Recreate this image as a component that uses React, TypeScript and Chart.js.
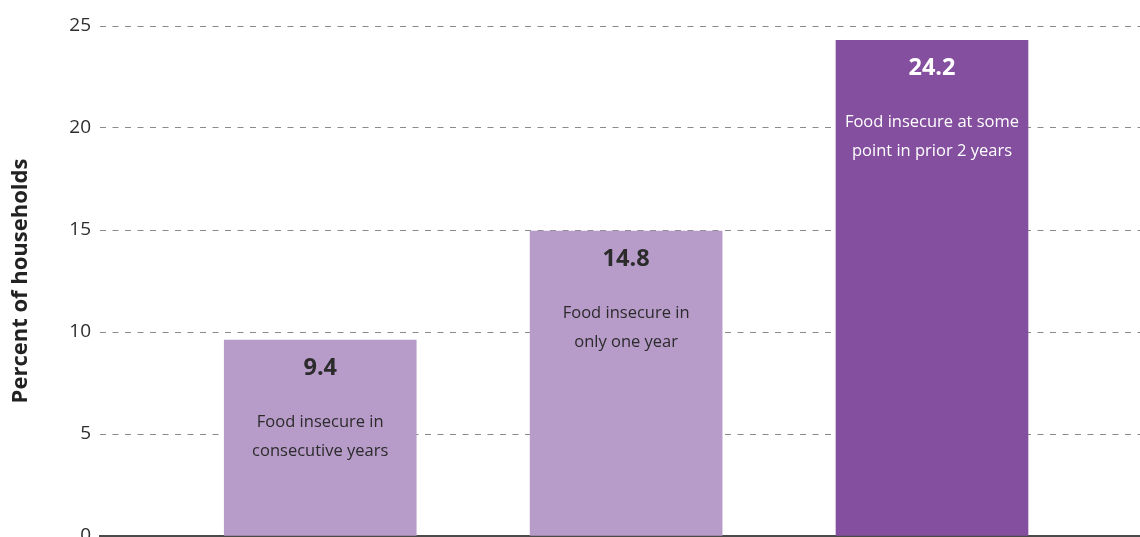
import React, { useEffect, useRef } from "react";
import { Chart, registerables } from "chart.js";

Chart.register(...registerables);

const categories = [
  ["Food insecure in", "consecutive years"],
  ["Food insecure in", "only one year"],
  ["Food insecure at some", "point in prior 2 years"],
];
const barValues = [9.6, 14.95, 24.3];
const valueLabels = ["9.4", "14.8", "24.2"];
const yTicks = [0, 5, 10, 15, 20, 25];
const barColors = ["#b79bc9", "#b79bc9", "#854f9f"];
const textColors = ["#2b2b2b", "#2b2b2b", "#ffffff"];

const FONT = "'Open Sans', 'DejaVu Sans', sans-serif";

const barLabelPlugin = {
  id: "barLabels",
  afterDatasetsDraw(chart: any) {
    const meta = chart.getDatasetMeta(0);
    const ctx = chart.ctx;
    ctx.save();
    ctx.textAlign = "center";
    ctx.textBaseline = "middle";
    meta.data.forEach((bar: any, i: number) => {
      const x = bar.x;
      const top = bar.y;
      ctx.fillStyle = textColors[i];
      ctx.font = `bold 23.5px ${FONT}`;
      ctx.fillText(valueLabels[i], x, top + 28);
      ctx.font = `16.5px ${FONT}`;
      categories[i].forEach((line: string, j: number) => {
        ctx.fillText(line, x, top + 82 + j * 29);
      });
    });
    ctx.restore();
  },
};

export default function App() {
  const ref = useRef<HTMLCanvasElement | null>(null);
  useEffect(() => {
    if (!ref.current) return;
    const chart = new Chart(ref.current, {
      type: "bar",
      data: {
        datasets: [
          {
            data: barValues.map((v, i) => ({ x: i, y: v })),
            backgroundColor: barColors,
            barThickness: 192,
            borderWidth: 0,
          },
        ],
      },
      options: {
        animation: false,
        responsive: true,
        maintainAspectRatio: false,
        layout: { padding: { top: 26, right: 0, bottom: 24, left: 0 } },
        plugins: { legend: { display: false }, tooltip: { enabled: false } },
        scales: {
          x: {
            type: "linear",
            offset: false,
            min: -0.72,
            max: 2.68,
            ticks: { display: false },
            grid: { display: false, drawTicks: false },
            border: { display: true, color: "#4a4a4a", width: 2 },
          },
          y: {
            min: 0,
            max: 25,
            afterBuildTicks: (scale: any) => {
              scale.ticks = yTicks.map((v) => ({ value: v }));
            },
            afterFit: (scale: any) => {
              scale.width = 100;
            },
            ticks: {
              color: "#2e2e2e",
              font: { family: FONT, size: 19 },
              padding: 9,
            },
            grid: { color: "#8a8a8a", lineWidth: 1, drawTicks: false },
            border: { display: false, dash: [6, 6.5] },
            title: {
              display: true,
              text: "Percent of households",
              color: "#222222",
              font: { family: FONT, size: 22, weight: "bold" },
              padding: { top: 8, bottom: 0 },
            },
          },
        },
      },
      plugins: [barLabelPlugin],
    });
    return () => chart.destroy();
  }, []);
  return (
    <div style={{ position: "fixed", left: 0, top: 0, width: 1140, height: 560, background: "#fff" }}>
      <canvas ref={ref} />
    </div>
  );
}
